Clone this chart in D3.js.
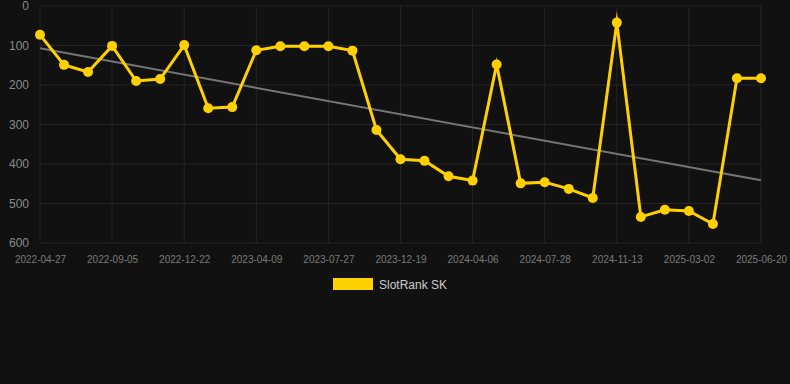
<!DOCTYPE html>
<html>
<head>
<meta charset="utf-8">
<script src="https://cdn.jsdelivr.net/npm/d3@7"></script>
<style>
  html, body { margin: 0; padding: 0; background: #111111; }
  svg { display: block; font-family: "Liberation Sans", Arial, Helvetica, sans-serif; }
</style>
</head>
<body>
<svg id="chart" width="790" height="384"></svg>
<script>
const categories = [
  "2022-04-27","2022-06-10","2022-07-24","2022-09-05","2022-10-11","2022-11-16",
  "2022-12-22","2023-01-27","2023-03-04","2023-04-09","2023-05-15","2023-06-20",
  "2023-07-27","2023-09-14","2023-11-01","2023-12-19","2024-01-24","2024-02-29",
  "2024-04-06","2024-05-13","2024-06-20","2024-07-28","2024-09-03","2024-10-08",
  "2024-11-13","2024-12-19","2025-01-24","2025-03-02","2025-04-08","2025-05-14",
  "2025-06-20"
];
const rankValues = [
  73, 149, 167, 101, 190, 185,
  99, 259, 256, 112, 102, 102,
  102, 113, 314, 388, 392, 431,
  442, 148, 449, 446, 463, 486,
  42, 534, 516, 519, 552, 183,
  183
];
const xTickLabels = [
  "2022-04-27","2022-09-05","2022-12-22","2023-04-09","2023-07-27","2023-12-19",
  "2024-04-06","2024-07-28","2024-11-13","2025-03-02","2025-06-20"
];
const yTickValues = [0, 100, 200, 300, 400, 500, 600];
const seriesName = "SlotRank SK";

(function () {
const svg = d3.select("#chart");
const mLeft = 40, mRight = 761, mTop = 6, mBottom = 243;

const x = d3.scalePoint().domain(categories).range([mLeft, mRight]);
const y = d3.scaleLinear().domain([0, 600]).range([mTop, mBottom]);

const gridColor = "#242424";

// horizontal grid
svg.append("g").selectAll("line").data(yTickValues).join("line")
  .attr("x1", mLeft).attr("x2", mRight)
  .attr("y1", d => y(d)).attr("y2", d => y(d))
  .attr("stroke", gridColor).attr("stroke-width", 1);

// vertical grid
svg.append("g").selectAll("line").data(xTickLabels).join("line")
  .attr("x1", d => x(d)).attr("x2", d => x(d))
  .attr("y1", mTop).attr("y2", mBottom)
  .attr("stroke", gridColor).attr("stroke-width", 1);

// y axis labels
const yAxis = d3.axisLeft(y).tickValues(yTickValues).tickSize(0).tickPadding(0);
const gy = svg.append("g").attr("transform", `translate(29,0)`).call(yAxis);
gy.select(".domain").remove();
gy.selectAll("text").attr("fill", "#8a8a8a").attr("font-size", 12)
  .attr("font-family", "Liberation Sans, Arial, sans-serif");

// x axis labels
const xAxis = d3.axisBottom(x).tickValues(xTickLabels).tickSize(0).tickPadding(0);
const gx = svg.append("g").attr("transform", `translate(0,${mBottom + 13})`).call(xAxis);
gx.select(".domain").remove();
gx.selectAll("text").attr("fill", "#7a7a7a").attr("font-size", 10)
  .attr("font-family", "Liberation Sans, Arial, sans-serif");

// trend line (least squares)
const n = rankValues.length;
const idx = d3.range(n);
const mx = d3.mean(idx), my = d3.mean(rankValues);
const slope = d3.sum(idx, i => (i - mx) * (rankValues[i] - my)) / d3.sum(idx, i => (i - mx) * (i - mx));
const intercept = my - slope * mx;
const trend = [0, n - 1].map(i => ({ c: categories[i], v: intercept + slope * i }));
svg.append("path").datum(trend)
  .attr("d", d3.line().x(d => x(d.c)).y(d => y(d.v)))
  .attr("fill", "none").attr("stroke", "#757575").attr("stroke-width", 2);

// main line
const data = categories.map((c, i) => ({ c, v: rankValues[i] }));
const lineColor = "#ffd000";
svg.append("path").datum(data)
  .attr("d", d3.line().x(d => x(d.c)).y(d => y(d.v)))
  .attr("fill", "none").attr("stroke", lineColor).attr("stroke-width", 3)
  .attr("stroke-linejoin", "miter").attr("stroke-miterlimit", 10);

svg.append("g").selectAll("circle").data(data).join("circle")
  .attr("cx", d => x(d.c)).attr("cy", d => y(d.v)).attr("r", 5)
  .attr("fill", lineColor);

// legend
svg.append("rect").attr("x", 333).attr("y", 278).attr("width", 40).attr("height", 12)
  .attr("fill", lineColor);
svg.append("text").attr("x", 379).attr("y", 289).text(seriesName)
  .attr("fill", "#cccccc").attr("font-size", 12);
})();
</script>
</body>
</html>
